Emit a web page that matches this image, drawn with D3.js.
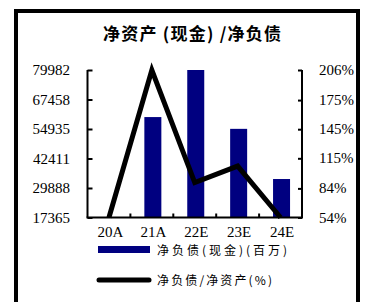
<!DOCTYPE html>
<html><head><meta charset="utf-8">
<script src="https://cdn.jsdelivr.net/npm/d3@7"></script>
<style>body{margin:0;background:#fff}svg{display:block}</style>
</head><body>
<svg id="c" width="368" height="302"></svg>
<script>
const categories = ["20A","21A","22E","23E","24E"];
const netDebt = [17365, 60000, 79982, 55000, 33700];
const ratio = [54, 206, 90, 107, 54];
const leftTicks = [17365, 29888, 42411, 54935, 67458, 79982];
const rightTicks = [54, 84, 115, 145, 175, 206];
const titleText = "净资产 (现金) /净负债";
const legendBar = "净负债(现金)(百万)";
const legendLine = "净负债/净资产(%)";

const svg = d3.select("#c");
const serif = "'Liberation Serif','Times New Roman',serif";
const cjk = "'Noto Sans CJK SC','Noto Sans CJK JP',sans-serif";

// frame
svg.append("rect").attr("x",16).attr("y",11).attr("width",342).attr("height",320)
  .attr("fill","none").attr("stroke","#000").attr("stroke-width",4);

svg.append("text").attr("x",192).attr("y",40).attr("text-anchor","middle")
  .attr("font-family",cjk).attr("font-weight",700).attr("font-size",17)
  .attr("textLength",178).attr("lengthAdjust","spacing").text(titleText);

const x0 = 87.5, x1 = 302, yTop = 70, yBot = 217.5;
const x = d3.scaleBand().domain(categories).range([x0, x1]).padding(0);
const yL = d3.scaleLinear().domain([17365, 79982]).range([yBot, yTop]);
const yR = d3.scaleLinear().domain([54, 206]).range([yBot, yTop]);

// bars
const bw = 17;
svg.append("g").selectAll("rect").data(categories).join("rect")
  .attr("x", d => x(d) + x.bandwidth()/2 - bw/2 + 1)
  .attr("y", (d,i) => yL(netDebt[i]))
  .attr("width", bw)
  .attr("height", (d,i) => yBot - yL(netDebt[i]))
  .attr("fill", "#000080");

// axes
const axisL = d3.axisLeft(yL).tickValues(leftTicks).tickSize(-5).tickFormat("");
const gL = svg.append("g").attr("transform",`translate(${x0},0)`).call(axisL);
const axisR = d3.axisRight(yR).tickValues(rightTicks).tickSize(-4).tickFormat("");
const gR = svg.append("g").attr("transform",`translate(${x1},0)`).call(axisR);
[gL,gR].forEach(g => {
  g.select(".domain").attr("stroke","#000").attr("stroke-width",2);
  g.selectAll(".tick line").attr("stroke","#000").attr("stroke-width",2);
});
gL.select(".domain").attr("d",`M0,${yTop}V${yBot}`);
gR.select(".domain").attr("d",`M0,${yTop}V${yBot}`);

svg.append("line").attr("x1",x0-1).attr("x2",x1+1).attr("y1",yBot).attr("y2",yBot)
  .attr("stroke","#000").attr("stroke-width",2);
svg.append("g").selectAll("line").data(categories.slice(1)).join("line")
  .attr("x1", d => x(d)).attr("x2", d => x(d))
  .attr("y1", yBot).attr("y2", yBot - 4)
  .attr("stroke","#000").attr("stroke-width",2);

// tick labels
svg.append("g").selectAll("text").data(leftTicks).join("text")
  .attr("x",70).attr("y", d => yL(d) + 5).attr("text-anchor","end")
  .attr("font-family",serif).attr("font-size",15).text(d => d);
svg.append("g").selectAll("text").data(rightTicks).join("text")
  .attr("x",319).attr("y", d => yR(d) + 5).attr("text-anchor","start")
  .attr("font-family",serif).attr("font-size",15).text(d => d + "%");
svg.append("g").selectAll("text").data(categories).join("text")
  .attr("x", d => x(d) + x.bandwidth()/2 + 1.5).attr("y", 237)
  .attr("text-anchor","middle").attr("font-family",serif).attr("font-size",15).text(d => d);

// line
const line = d3.line().x((d,i) => x(categories[i]) + x.bandwidth()/2).y(d => yR(d));
svg.append("path").datum(ratio).attr("d", line).attr("fill","none")
  .attr("stroke","#000").attr("stroke-width",5).attr("stroke-linejoin","miter");

// legend
svg.append("rect").attr("x",98).attr("y",246).attr("width",52).attr("height",7).attr("fill","#000080");
svg.append("text").attr("x",157).attr("y",255).attr("font-family",cjk).attr("font-size",12)
  .attr("textLength",130).attr("lengthAdjust","spacing").text(legendBar);
svg.append("line").attr("x1",99).attr("x2",149).attr("y1",280).attr("y2",280)
  .attr("stroke","#000").attr("stroke-width",5).attr("stroke-linecap","round");
svg.append("text").attr("x",157).attr("y",285).attr("font-family",cjk).attr("font-size",12)
  .attr("textLength",115).attr("lengthAdjust","spacing").text(legendLine);
</script>
</body></html>
